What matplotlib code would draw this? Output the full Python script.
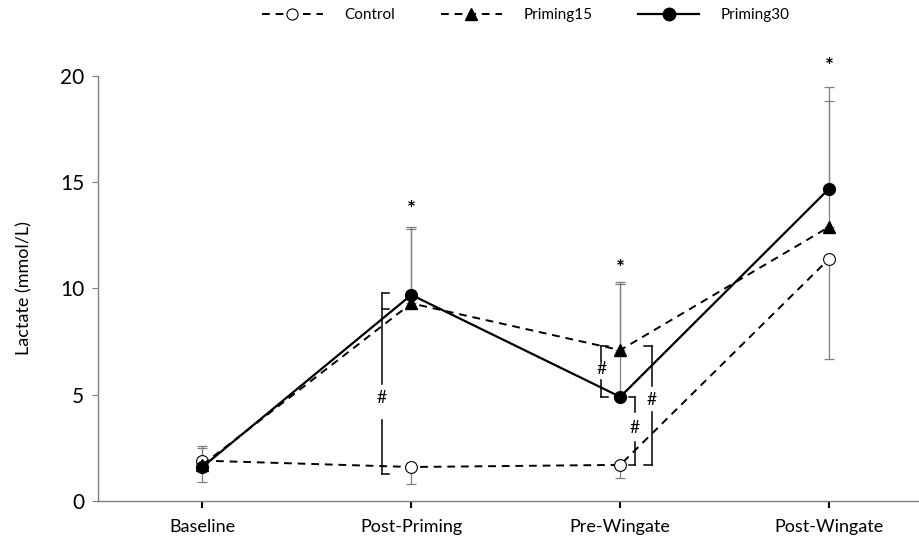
import matplotlib.pyplot as plt
from matplotlib.lines import Line2D

plt.rcParams['font.family'] = ['Lato', 'DejaVu Sans']

# Blood lactate at each time point (mean, mmol/L)
timepoints = ['Baseline', 'Post-Priming', 'Pre-Wingate', 'Post-Wingate']
control = [1.9, 1.6, 1.7, 11.4]
priming15 = [1.7, 9.3, 7.1, 12.9]
priming30 = [1.6, 9.7, 4.9, 14.7]

# SD (shown one-sided: up for priming, down for control)
control_sd = [1.0, 0.8, 0.6, 4.7]
priming15_sd = [0.8, 3.5, 3.1, 5.9]
priming30_sd = [1.0, 3.2, 5.4, 4.8]

# asterisk heights (significant vs control)
star_x = [1, 2, 3]
star_y = [13.7, 10.9, 20.4]

x = list(range(len(timepoints)))

fig = plt.figure(figsize=(9.19, 5.39), dpi=100)
ax = fig.add_axes([0.1066, 0.0705, 0.8934, 0.7885])

err_kw = dict(fmt='none', ecolor='#7f7f7f', elinewidth=0.9, capsize=3.5, capthick=0.9, zorder=1)
ax.errorbar(x, control, yerr=[control_sd, [0] * 4], **err_kw)
ax.errorbar(x, priming15, yerr=[[0] * 4, priming15_sd], **err_kw)
ax.errorbar(x, priming30, yerr=[[0] * 4, priming30_sd], **err_kw)

dash = (0, (4, 3))
ax.plot(x, control, linestyle=dash, color='black', lw=1.4, marker='o', ms=8.5,
        mfc='white', mec='black', mew=0.8, zorder=3, label='Control')
ax.plot(x, priming15, linestyle=dash, color='black', lw=1.4, marker='^', ms=8,
        mfc='black', mec='black', zorder=4, label='Priming15')
ax.plot(x, priming30, linestyle='-', color='black', lw=1.6, marker='o', ms=8.5,
        mfc='black', mec='black', zorder=5, label='Priming30')

for sx, sy in zip(star_x, star_y):
    ax.text(sx, sy, '*', ha='center', va='center', fontsize=15, fontweight='bold', clip_on=False)


def bracket(xb, top, bottom, gap_lo, gap_hi, mark_y, tick, extra=None):
    # vertical bracket broken around a '#' label
    kw = dict(color='black', lw=1.1, zorder=2)
    ax.plot([xb, xb], [top, gap_hi], **kw)
    ax.plot([xb, xb], [gap_lo, bottom], **kw)
    ax.plot([xb, xb + tick], [top, top], **kw)
    ax.plot([xb, xb + tick], [bottom, bottom], **kw)
    if extra is not None:
        ax.plot([xb, xb + tick], [extra, extra], **kw)
    ax.text(xb, mark_y, '#', ha='center', va='center', fontsize=12.5)


bracket(0.86, 9.8, 1.27, 3.8, 5.5, 4.85, 0.035, extra=9.05)
bracket(1.91, 7.3, 4.9, 5.7, 6.6, 6.2, 0.03)
bracket(2.15, 7.3, 1.7, 4.2, 5.4, 4.75, -0.035)
bracket(2.07, 4.9, 1.7, 2.8, 4.2, 3.45, -0.03)

ax.set_xlim(-0.5, 3.43)
ax.set_ylim(0, 20)
ax.set_yticks([0, 5, 10, 15, 20])
ax.set_xticks(x)
ax.set_xticklabels(timepoints)
ax.tick_params(axis='y', labelsize=15, length=4, color='#7f7f7f', pad=6)
ax.tick_params(axis='x', labelsize=13, length=5, width=1.5, color='black', pad=8)
ax.set_ylabel('Lactate (mmol/L)', fontsize=13, labelpad=20)

for side in ['top', 'right']:
    ax.spines[side].set_visible(False)
for side in ['left', 'bottom']:
    ax.spines[side].set_color('#7f7f7f')
    ax.spines[side].set_linewidth(1.0)

handles = [
    Line2D([], [], linestyle=dash, color='black', lw=1.4, marker='o', ms=8, mfc='white', mec='black', mew=0.8),
    Line2D([], [], linestyle=dash, color='black', lw=1.4, marker='^', ms=8, mfc='black', mec='black'),
    Line2D([], [], linestyle='-', color='black', lw=1.6, marker='o', ms=9, mfc='black', mec='black'),
]
fig.legend(handles, ['Control', 'Priming15', 'Priming30'], loc='center', bbox_to_anchor=(0.572, 0.972),
           ncol=3, frameon=False, fontsize=11, handlelength=4.0, handletextpad=1.4, columnspacing=3.0)

fig.savefig('out.png', dpi=100)
